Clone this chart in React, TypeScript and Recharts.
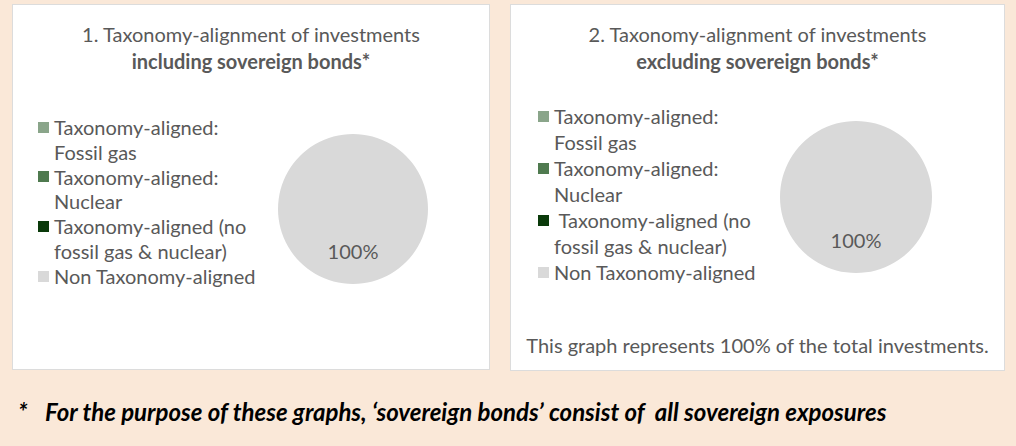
import React from 'react';
import { PieChart, Pie, Cell, Legend } from 'recharts';

const categories = [
  'Taxonomy-aligned:\nFossil gas',
  'Taxonomy-aligned:\nNuclear',
  'Taxonomy-aligned (no\nfossil gas & nuclear)',
  'Non Taxonomy-aligned',
];
// second chart's legend has a stray leading space on the third entry
const categoriesExcl = [
  'Taxonomy-aligned:\nFossil gas',
  'Taxonomy-aligned:\nNuclear',
  ' Taxonomy-aligned (no\nfossil gas & nuclear)',
  'Non Taxonomy-aligned',
];
const valuesIncl = [0, 0, 0, 100];
const valuesExcl = [0, 0, 0, 100];
const sliceColors = ['#8aa58a', '#4f7a4f', '#0a3a0a', '#d9d9d9'];

const FONT = 'Lato, "Open Sans", sans-serif';
const TEXT = '#595959';

const toRows = (names: string[], values: number[]) =>
  names.map((name, i) => ({ name, value: values[i] }));

function renderPct(props: any) {
  const { cx, cy, midAngle, outerRadius, value } = props;
  if (!value) return null;
  const rad = (Math.PI / 180) * midAngle;
  const r = outerRadius * 0.56;
  return (
    <text
      x={cx + r * Math.cos(rad)}
      y={cy - r * Math.sin(rad)}
      textAnchor="middle"
      dominantBaseline="central"
      fill={TEXT}
      fontFamily={FONT}
      fontSize={20}
    >
      {value}%
    </text>
  );
}

function makeLegend(names: string[], lineH: number, gap: number) {
  return (props: any) => {
    const items = [...(props.payload || [])].sort(
      (a: any, b: any) => names.indexOf(a.value) - names.indexOf(b.value)
    );
    return (
      <div style={{ fontFamily: FONT, fontSize: 20, color: TEXT, lineHeight: lineH + 'px' }}>
        {items.map((p: any, i: number) => (
          <div key={i} style={{ display: 'flex', alignItems: 'flex-start', marginBottom: gap }}>
            <span
              style={{
                width: 11,
                height: 11,
                background: p.color,
                marginTop: (lineH - 11) / 2,
                marginRight: 5,
                flex: 'none',
              }}
            />
            <span style={{ whiteSpace: 'pre' }}>{p.value}</span>
          </div>
        ))}
      </div>
    );
  };
}

interface PanelProps {
  left: number;
  width: number;
  height: number;
  num: string;
  bold: string;
  names: string[];
  values: number[];
  pieCx: number;
  pieCy: number;
  radius: number;
  legendLeft: number;
  legendTop: number;
  lineH: number;
  gap: number;
  note?: string;
}

function Panel(p: PanelProps) {
  const rows = toRows(p.names, p.values);
  return (
    <div
      style={{
        position: 'absolute',
        left: p.left,
        top: 4,
        width: p.width,
        height: p.height,
        background: '#fff',
        border: '1px solid #dcdcdc',
        boxSizing: 'border-box',
      }}
    >
      <div
        style={{
          position: 'absolute',
          left: 0,
          top: 16,
          width: '100%',
          textAlign: 'center',
          fontFamily: FONT,
          fontSize: 20,
          lineHeight: '27px',
          color: TEXT,
        }}
      >
        {p.num} Taxonomy-alignment of investments
        <br />
        <b>{p.bold}</b>
      </div>
      <PieChart
        width={p.width - 2}
        height={p.height - 2}
        margin={{ top: 0, right: 0, bottom: 0, left: 0 }}
      >
        <Pie
          data={rows}
          dataKey="value"
          nameKey="name"
          cx={p.pieCx}
          cy={p.pieCy}
          outerRadius={p.radius}
          startAngle={90}
          endAngle={-270}
          stroke="none"
          label={renderPct}
          labelLine={false}
          isAnimationActive={false}
        >
          {rows.map((r, i) => (
            <Cell key={r.name} fill={sliceColors[i]} />
          ))}
        </Pie>
        <Legend
          layout="vertical"
          align="center"
          verticalAlign="middle"
          content={makeLegend(p.names, p.lineH, p.gap)}
          wrapperStyle={{ left: p.legendLeft, top: p.legendTop, width: 240 }}
        />
      </PieChart>
      {p.note && (
        <div
          style={{
            position: 'absolute',
            left: 0,
            top: 328,
            width: '100%',
            textAlign: 'center',
            fontFamily: FONT,
            fontSize: 20,
            lineHeight: '24px',
            color: TEXT,
          }}
        >
          {p.note}
        </div>
      )}
    </div>
  );
}

const footStyle: React.CSSProperties = {
  position: 'absolute',
  top: 397,
  fontFamily: FONT,
  fontSize: 24,
  lineHeight: '30px',
  fontWeight: 'bold',
  fontStyle: 'italic',
  color: '#000',
  whiteSpace: 'pre',
};

export default function App() {
  return (
    <div
      style={{
        position: 'absolute',
        left: 0,
        top: 0,
        width: 1016,
        height: 446,
        background: '#fae8d8',
        overflow: 'hidden',
      }}
    >
      <Panel
        left={12}
        width={478}
        height={366}
        num="1."
        bold="including sovereign bonds*"
        names={categories}
        values={valuesIncl}
        pieCx={340}
        pieCy={204}
        radius={75}
        legendLeft={25}
        legendTop={110}
        lineH={24.8}
        gap={0}
      />
      <Panel
        left={510}
        width={495}
        height={367}
        num="2."
        bold="excluding sovereign bonds*"
        names={categoriesExcl}
        values={valuesExcl}
        pieCx={345}
        pieCy={192}
        radius={76}
        legendLeft={27}
        legendTop={99}
        lineH={25.5}
        gap={1}
        note="This graph represents 100% of the total investments."
      />
      <div style={{ ...footStyle, left: 18 }}>*</div>
      <div style={{ ...footStyle, left: 45 }}>
        {'For the purpose of these graphs, \u2018sovereign bonds\u2019 consist of  all sovereign exposures'}
      </div>
    </div>
  );
}
